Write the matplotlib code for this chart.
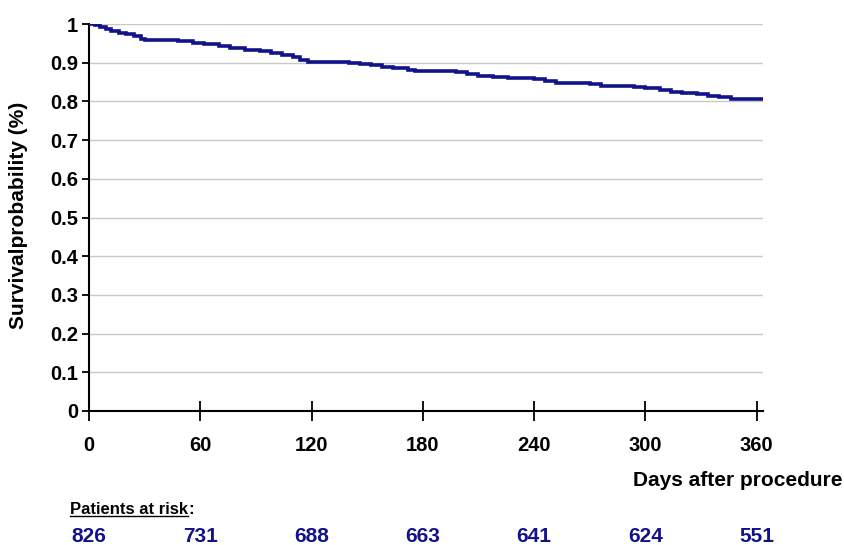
import matplotlib
matplotlib.use("Agg")
import matplotlib.pyplot as plt
import matplotlib.transforms as mtransforms

# Kaplan-Meier step curve (days, survival)
days = [0, 3, 6, 9, 12, 16, 20, 24, 28, 30, 48, 56, 62, 70, 76, 84, 92, 98,
        104, 110, 114, 118, 140, 146, 152, 158, 164, 172, 176, 198, 204, 210,
        218, 226, 240, 246, 252, 270, 276, 294, 300, 308, 314, 320, 328, 334,
        340, 346, 363]
survival = [1.0, 0.997, 0.993, 0.988, 0.982, 0.978, 0.975, 0.968, 0.962,
            0.958, 0.955, 0.952, 0.948, 0.944, 0.939, 0.934, 0.929, 0.925,
            0.920, 0.914, 0.908, 0.903, 0.900, 0.897, 0.893, 0.890, 0.886,
            0.882, 0.878, 0.875, 0.870, 0.865, 0.862, 0.860, 0.857, 0.852,
            0.848, 0.845, 0.840, 0.838, 0.834, 0.830, 0.825, 0.822, 0.818,
            0.815, 0.811, 0.806, 0.806]

x_ticks = [0, 60, 120, 180, 240, 300, 360]
y_ticks = [0, 0.1, 0.2, 0.3, 0.4, 0.5, 0.6, 0.7, 0.8, 0.9, 1]
y_labels = ["0", "0.1", "0.2", "0.3", "0.4", "0.5", "0.6", "0.7", "0.8", "0.9", "1"]
at_risk = [826, 731, 688, 663, 641, 624, 551]

FONT = ["Liberation Sans", "DejaVu Sans"]
NAVY = "#12128a"

fig = plt.figure(figsize=(8.45, 5.45), dpi=100)
ax = fig.add_axes([89 / 845, 1 - 411 / 545, (763 - 89) / 845, (411 - 24) / 545])

ax.step(days, survival, where="post", color=NAVY, linewidth=2.6,
        solid_joinstyle="miter", zorder=3)

ax.set_xlim(0, 363.5)
ax.set_ylim(0, 1)
for yv in y_ticks[1:]:
    ax.axhline(yv, color="#c8c8c8", linewidth=1.0, zorder=1)

for side in ("top", "right"):
    ax.spines[side].set_visible(False)
ax.spines["left"].set_linewidth(1.5)
ax.spines["bottom"].set_linewidth(1.5)
ax.spines["bottom"].set_zorder(4)

ax.set_xticks(x_ticks)
ax.set_xticklabels([str(v) for v in x_ticks])
ax.set_yticks(y_ticks)
ax.set_yticklabels(y_labels)
ax.tick_params(axis="x", direction="inout", length=14, width=1.3, pad=11)
ax.tick_params(axis="y", direction="out", length=5, width=1.3, pad=3)
for lab in ax.get_xticklabels() + ax.get_yticklabels():
    lab.set_fontfamily(FONT)
    lab.set_fontweight("bold")
    lab.set_fontsize(14.5)

fig.text(19 / 845, 1 - 215 / 545, "Survivalprobability (%)", rotation=90,
         ha="center", va="center", fontsize=15, fontweight="bold",
         family=FONT)
fig.text(843 / 845, 1 - 480 / 545, "Days after procedure", ha="right",
         va="center", fontsize=15, fontweight="bold", family=FONT)

t = fig.text(70 / 845, 1 - 510 / 545, "Patients at risk", ha="left",
             va="center", fontsize=12, fontweight="bold", family=FONT)
fig.canvas.draw()
bb = t.get_window_extent().transformed(fig.transFigure.inverted())
fig.add_artist(plt.Line2D([bb.x0, bb.x1], [bb.y0 + 0.002, bb.y0 + 0.002],
                          color="black", linewidth=1.0))
fig.text(bb.x1, 1 - 510 / 545, ":", ha="left", va="center", fontsize=12,
         fontweight="bold", family=FONT)

trans = mtransforms.blended_transform_factory(ax.transData, fig.transFigure)
for xv, n in zip(x_ticks, at_risk):
    fig.text(xv, 1 - 537 / 545, str(n), transform=trans, ha="center",
             va="center", fontsize=15, fontweight="bold", color=NAVY,
             family=FONT)

fig.savefig("out.png", dpi=100, facecolor="white")
